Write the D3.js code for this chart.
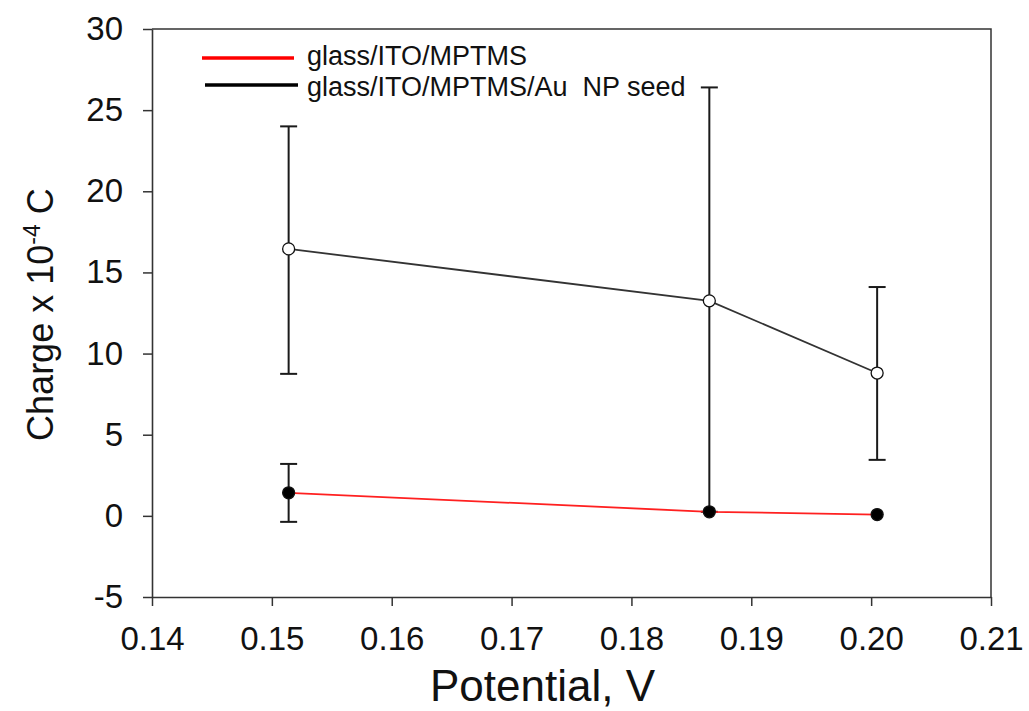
<!DOCTYPE html>
<html>
<head>
<meta charset="utf-8">
<script src="https://cdn.jsdelivr.net/npm/d3@7"></script>
<style>
  body { margin: 0; background: #fff; }
  .tick text { font-family: "Liberation Sans", Arial, sans-serif; font-size: 33px; fill: #111; }
  .label { font-family: "Liberation Sans", Arial, sans-serif; font-size: 44px; fill: #111; }
  .ylabel { font-size: 36px; }
  .legend { font-family: "Liberation Sans", Arial, sans-serif; font-size: 27px; fill: #111; }
</style>
</head>
<body>
<div class="svg-container"></div>
<script>
var width = 1029;
var height = 711;

var padding = { "top": 29, "right": 38, "bottom": 114, "left": 152 };

// data
var potential = [0.1514, 0.1865, 0.2005];
var seedCharge = [16.45, 13.25, 8.8];
var seedUpper = [24.0, 26.4, 14.1];
var seedLower = [8.75, 0.25, 3.45];
var mptmsCharge = [1.42, 0.25, 0.08];
var mptmsUpper = [3.2, 0.25, 0.08];
var mptmsLower = [-0.37, 0.25, 0.08];

var xTicks = [0.14, 0.15, 0.16, 0.17, 0.18, 0.19, 0.20, 0.21];
var yTicks = [-5, 0, 5, 10, 15, 20, 25, 30];
var legendNames = ["glass/ITO/MPTMS", "glass/ITO/MPTMS/Au\u00a0\u00a0NP seed"];
var legendColors = ["#ff0000", "#000000"];

var innerW = width - padding.left - padding.right;
var innerH = height - padding.top - padding.bottom;

var svg = d3.select(".svg-container")
              .append("svg")
              .attr("width", width)
              .attr("height", height)
              .append("g")
              .attr("transform", "translate(" + padding.left + "," + padding.top + ")");

var scaleX = d3.scaleLinear().domain([0.14, 0.21]).range([0, innerW]);
var scaleY = d3.scaleLinear().domain([-5, 30]).range([innerH, 0]);

// frame (top & right)
svg.append("path")
    .attr("d", "M0,0H" + innerW + "V" + innerH)
    .attr("fill", "none")
    .attr("stroke", "#333")
    .attr("stroke-width", 1.5);

// axes
var xAxis = svg.append("g")
    .attr("transform", "translate(0," + innerH + ")")
    .call(d3.axisBottom(scaleX).tickValues(xTicks).tickFormat(d3.format(".2f")).tickSizeInner(9).tickSizeOuter(0).tickPadding(21));
var yAxis = svg.append("g")
    .call(d3.axisLeft(scaleY).tickValues(yTicks).tickFormat(function(d) { return String(d); }).tickSizeInner(9).tickSizeOuter(0).tickPadding(20));
[xAxis, yAxis].forEach(function(a) {
  a.select(".domain").attr("stroke", "#333").attr("stroke-width", 1.6);
  a.selectAll(".tick line").attr("stroke", "#333").attr("stroke-width", 1.5);
});

function drawSeries(charge, upper, lower, lineColor, fill) {
  var pts = potential.map(function(p, i) {
    return { x: p, y: charge[i], hi: upper[i], lo: lower[i] };
  });
  var g = svg.append("g");
  g.append("path")
    .datum(pts)
    .attr("fill", "none")
    .attr("stroke", lineColor)
    .attr("stroke-width", 1.8)
    .attr("d", d3.line().x(function(d) { return scaleX(d.x); }).y(function(d) { return scaleY(d.y); }));
  var bars = g.selectAll(".err").data(pts.filter(function(d) { return d.hi - d.lo > 0.5; }))
    .enter().append("g").attr("stroke", "#1a1a1a").attr("stroke-width", 2);
  bars.append("line")
    .attr("x1", function(d) { return scaleX(d.x); }).attr("x2", function(d) { return scaleX(d.x); })
    .attr("y1", function(d) { return scaleY(d.hi); }).attr("y2", function(d) { return scaleY(d.lo); });
  ["hi", "lo"].forEach(function(k) {
    bars.append("line")
      .attr("x1", function(d) { return scaleX(d.x) - 8.5; }).attr("x2", function(d) { return scaleX(d.x) + 8.5; })
      .attr("y1", function(d) { return scaleY(d[k]); }).attr("y2", function(d) { return scaleY(d[k]); });
  });
  g.selectAll("circle").data(pts).enter().append("circle")
    .attr("cx", function(d) { return scaleX(d.x); })
    .attr("cy", function(d) { return scaleY(d.y); })
    .attr("r", 6)
    .attr("fill", fill)
    .attr("stroke", "#111")
    .attr("stroke-width", 1.3);
}

drawSeries(seedCharge, seedUpper, seedLower, "#333", "#fff");
drawSeries(mptmsCharge, mptmsUpper, mptmsLower, "#ff2020", "#000");

// legend
var legend = svg.append("g").attr("transform", "translate(50,29)");
legendNames.forEach(function(name, i) {
  legend.append("line")
    .attr("x1", i * 3).attr("x2", 92 + i * 4)
    .attr("y1", i * 27).attr("y2", i * 27)
    .attr("stroke", legendColors[i])
    .attr("stroke-width", 3.5);
  legend.append("text")
    .attr("class", "legend")
    .attr("x", 105)
    .attr("y", i * 30.5 + 7)
    .text(name);
});

// axis titles
svg.append("text")
    .attr("class", "label")
    .attr("x", innerW / 2 - 29)
    .attr("y", innerH + 104)
    .attr("text-anchor", "middle")
    .text("Potential, V");

var yl = svg.append("text")
    .attr("class", "label ylabel")
    .attr("transform", "rotate(-90)")
    .attr("x", -scaleY(12.4))
    .attr("y", -99)
    .attr("text-anchor", "middle");
yl.append("tspan").text("Charge x 10");
yl.append("tspan").attr("dy", -13).style("font-size", "23px").text("-4");
yl.append("tspan").attr("dy", 13).text(" C");
</script>
</body>
</html>
